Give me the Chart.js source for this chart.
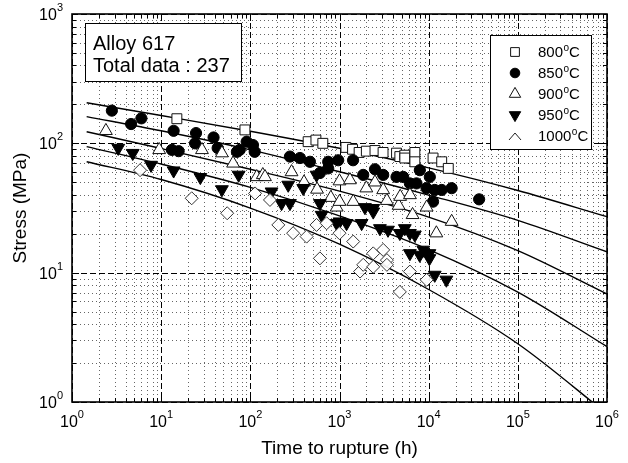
<!DOCTYPE html>
<html><head><meta charset="utf-8">
<script src="https://cdn.jsdelivr.net/npm/chart.js@4.4.1/dist/chart.umd.min.js"></script>
<style>html,body{margin:0;padding:0;background:#fff}#wrap{width:628px;height:463px;position:relative}</style>
</head><body><div id="wrap"><canvas id="c"></canvas></div>
<script>
// ---------- data ----------
const seriesLabels = ['800°C', '850°C', '900°C', '950°C', '1000°C'];
const noteLines = ['Alloy 617', 'Total data : 237'];
const xTitle = 'Time to rupture (h)';
const yTitle = 'Stress (MPa)';
const xTickExp = [0, 1, 2, 3, 4, 5, 6];
const yTickExp = [0, 1, 2, 3];

const t800 = [15, 87, 445, 544, 650, 1180, 1400, 1660, 2000, 2500, 3080, 4360, 4750, 5400, 5400, 7000, 7000, 11200, 14000, 16600];
const s800 = [155, 127, 103, 106, 100, 93, 90, 85, 87, 88, 85, 84, 79, 81, 77, 85, 72, 77, 72, 64];

const t850 = [2.8, 4.6, 6.0, 13.2, 13.8, 15.7, 24, 24.6, 38.7, 43, 70.7, 76, 91, 107, 112, 278, 360, 466, 603, 747, 747, 967, 1420, 1845, 2500, 3090, 4360, 5180, 6160, 7300, 7960, 9470, 10300, 11200, 11700, 14000, 18100, 36800];
const s850 = [179, 141, 156, 89, 125, 87, 100, 120, 111, 92, 86, 89, 103, 97, 86, 79, 77, 72, 59, 72, 64, 74, 74, 57, 63, 57, 55, 55, 49, 49, 62, 45, 55, 35.4, 43.6, 43.6, 45, 36.9];

const t900 = [2.4, 9.5, 28.7, 48, 64, 118, 138, 146, 290, 400, 560, 800, 930, 1000, 1000, 1310, 1425, 2000, 2500, 3090, 3400, 4600, 4790, 6170, 6600, 9500, 12200, 18100];
const s900 = [125, 89, 89, 84, 70, 55, 57, 55, 60, 50, 44, 38, 32, 51, 35.4, 52, 35.4, 45, 50, 43.6, 36, 33, 38.7, 39.9, 28, 32, 20.2, 24.8];

const t950 = [3.3, 4.8, 7.7, 13.8, 27.5, 48, 74, 173, 224, 266, 278, 392, 553, 603, 630, 927, 1000, 1200, 1770, 1930, 2390, 2390, 2840, 3500, 4750, 5400, 6160, 7000, 6160, 7940, 8710, 10200, 10200, 11700, 15800];
const s950 = [92, 84, 68, 61.5, 54.7, 44, 57, 42.3, 34.4, 47.7, 34.4, 45, 57, 34.4, 27.9, 24.1, 24.8, 24.1, 24.1, 32, 31.5, 29.6, 22, 21.4, 20.2, 22, 20.2, 19.6, 14.1, 13.7, 15, 12.9, 14.1, 9.6, 8.8];

const t1000 = [5.8, 22, 55, 113, 166, 206, 302, 428, 553, 603, 717, 1000, 1425, 1700, 1845, 2390, 2390, 3090, 3400, 3400, 4750, 6160, 9500];
const s1000 = [62, 37.6, 28.8, 41, 36.5, 23.4, 20.2, 19, 23.4, 12.9, 24.1, 20.2, 17.4, 10.2, 11.5, 11.1, 14.1, 15, 12.5, 11.5, 7.1, 10.2, 8.8];

// fitted master curves
const fitTime = [1.46, 10, 100, 1000, 10000, 100000, 1000000];
const fit800  = [206, 164, 124, 91.6, 64.6, 43.2, 27.1];
const fit850  = [161, 125, 89.1, 60.3, 39.8, 25.4, 14.5];
const fit900  = [123, 91.2, 63.1, 42.7, 26.9, 14.8, 6.84];
const fit950  = [94.4, 69.2, 45.7, 27.5, 15.1, 7.08, 2.68];
const fit1000 = [72.1, 52.5, 31.6, 16.6, 7.41, 2.82, 0.81];

// ---------- build ----------
const pts = (t, s) => t.map((v, i) => ({x: v, y: s[i]}));
const FONT = '"Liberation Sans", Arial, sans-serif';

const markerStyles = [
  {pointStyle: 'rect', radius: 7, bg: '#fff', border: '#111', rot: 0},
  {pointStyle: 'circle', radius: 5.6, bg: '#000', border: '#000', rot: 0},
  {pointStyle: 'triangle', radius: 7.4, bg: '#fff', border: '#111', rot: 0},
  {pointStyle: 'triangle', radius: 7.4, bg: '#000', border: '#000', rot: 180},
  {pointStyle: 'rectRot', radius: 6.5, bg: 'rgba(255,255,255,0.9)', border: '#333', rot: 0}
];
const seriesT = [t800, t850, t900, t950, t1000];
const seriesS = [s800, s850, s900, s950, s1000];
const fits = [fit800, fit850, fit900, fit950, fit1000];

const datasets = [];
fits.forEach((f, i) => datasets.push({
  type: 'line', label: 'fit ' + seriesLabels[i], data: pts(fitTime, f),
  borderColor: '#000', borderWidth: 1.4, pointRadius: 0, fill: false,
  cubicInterpolationMode: 'monotone', order: 20
}));
seriesT.forEach((t, i) => {
  const m = markerStyles[i];
  datasets.push({
    type: 'scatter', label: seriesLabels[i], data: pts(t, seriesS[i]),
    pointStyle: m.pointStyle, pointRadius: m.radius, pointRotation: m.rot,
    pointBackgroundColor: m.bg, pointBorderColor: m.border, pointBorderWidth: 1,
    order: 10 - i
  });
});

function drawPow(ctx, k, x, y, align) {
  ctx.font = '16px ' + FONT; const w1 = ctx.measureText('10').width;
  ctx.font = '11px ' + FONT; const w2 = ctx.measureText(String(k)).width;
  const left = align === 'center' ? x - (w1 + w2) / 2 : x - (w1 + w2);
  ctx.textAlign = 'left'; ctx.textBaseline = 'alphabetic'; ctx.fillStyle = '#000';
  ctx.font = '16px ' + FONT; ctx.fillText('10', left, y);
  ctx.font = '11px ' + FONT; ctx.fillText(String(k), left + w1, y - 9);
}

function drawDegLabel(ctx, lab, x, y) {
  const parts = lab.split('°');
  ctx.textAlign = 'left'; ctx.textBaseline = 'alphabetic'; ctx.fillStyle = '#000';
  ctx.font = '15px ' + FONT; ctx.fillText(parts[0], x, y);
  let w = ctx.measureText(parts[0]).width;
  ctx.font = '10px ' + FONT; ctx.fillText('o', x + w + 0.5, y - 6);
  w += ctx.measureText('o').width + 0.5;
  ctx.font = '15px ' + FONT; ctx.fillText(parts[1] || '', x + w, y);
}

const gridPlugin = {
  id: 'grid',
  beforeDatasetsDraw(chart) {
    const {ctx, chartArea: a, scales: {x, y}} = chart;
    ctx.save();
    ctx.lineWidth = 1;
    ctx.strokeStyle = '#666'; ctx.setLineDash([1, 3]);
    for (let e = 0; e < 6; e++) for (let m = 2; m <= 9; m++) {
      const px = Math.round(x.getPixelForValue(m * 10 ** e)) + 0.5;
      ctx.beginPath(); ctx.moveTo(px, a.top); ctx.lineTo(px, a.bottom); ctx.stroke();
    }
    for (let e = 0; e < 3; e++) for (let m = 2; m <= 9; m++) {
      const py = Math.round(y.getPixelForValue(m * 10 ** e)) + 0.5;
      ctx.beginPath(); ctx.moveTo(a.left, py); ctx.lineTo(a.right, py); ctx.stroke();
    }
    ctx.strokeStyle = '#000'; ctx.setLineDash([6, 3]);
    xTickExp.forEach(k => {
      const px = Math.round(x.getPixelForValue(10 ** k)) + 0.5;
      ctx.beginPath(); ctx.moveTo(px, a.top); ctx.lineTo(px, a.bottom); ctx.stroke();
    });
    yTickExp.forEach(k => {
      const py = Math.round(y.getPixelForValue(10 ** k)) + 0.5;
      ctx.beginPath(); ctx.moveTo(a.left, py); ctx.lineTo(a.right, py); ctx.stroke();
    });
    ctx.restore();
  },
  afterDatasetsDraw(chart) {
    const {ctx, chartArea: a, scales: {x, y}} = chart;
    ctx.save();
    ctx.setLineDash([]); ctx.strokeStyle = '#000'; ctx.lineWidth = 1;
    for (let e = 0; e < 6; e++) for (let m = 1; m <= 9; m++) {
      const px = Math.round(x.getPixelForValue(m * 10 ** e)) + 0.5;
      const L = m === 1 ? 7 : 4;
      ctx.beginPath(); ctx.moveTo(px, a.bottom); ctx.lineTo(px, a.bottom - L);
      ctx.moveTo(px, a.top); ctx.lineTo(px, a.top + L); ctx.stroke();
    }
    for (let e = 0; e < 3; e++) for (let m = 1; m <= 9; m++) {
      const py = Math.round(y.getPixelForValue(m * 10 ** e)) + 0.5;
      const L = m === 1 ? 7 : 4;
      ctx.beginPath(); ctx.moveTo(a.left, py); ctx.lineTo(a.left + L, py);
      ctx.moveTo(a.right, py); ctx.lineTo(a.right - L, py); ctx.stroke();
    }
    ctx.lineWidth = 1.6;
    ctx.strokeRect(a.left, a.top, a.right - a.left, a.bottom - a.top);
    ctx.restore();
  },
  afterDraw(chart) {
    const {ctx, chartArea: a, scales: {x, y}} = chart;
    ctx.save();
    xTickExp.forEach(k => drawPow(ctx, k, x.getPixelForValue(10 ** k), 427, 'center'));
    yTickExp.forEach(k => drawPow(ctx, k, a.left - 9, y.getPixelForValue(10 ** k) + 6, 'right'));
    ctx.fillStyle = '#000'; ctx.font = '19px ' + FONT;
    ctx.textAlign = 'center'; ctx.textBaseline = 'middle';
    ctx.fillText(xTitle, (a.left + a.right) / 2, 449);
    ctx.save(); ctx.translate(21, (a.top + a.bottom) / 2); ctx.rotate(-Math.PI / 2);
    ctx.fillText(yTitle, 0, 0); ctx.restore();
    // note box
    ctx.fillStyle = '#fff'; ctx.fillRect(85, 23, 157, 59);
    ctx.strokeStyle = '#000'; ctx.lineWidth = 1; ctx.strokeRect(85.5, 23.5, 156, 58);
    ctx.fillStyle = '#000'; ctx.font = '20px ' + FONT; ctx.textAlign = 'left'; ctx.textBaseline = 'middle';
    ctx.fillText(noteLines[0], 93, 44);
    ctx.fillText(noteLines[1], 93, 66);
    // legend box
    ctx.fillStyle = '#fff'; ctx.fillRect(490, 35, 102, 115);
    ctx.strokeRect(490.5, 35.5, 101, 114);
    seriesLabels.forEach((lab, i) => {
      const cy = 52 + i * 21, cx = 515;
      const m = markerStyles[i];
      if (i === 4) {
        ctx.strokeStyle = '#222'; ctx.lineWidth = 1;
        ctx.beginPath(); ctx.moveTo(cx - 6, cy + 4); ctx.lineTo(cx, cy - 3); ctx.lineTo(cx + 6, cy + 4); ctx.stroke();
      } else {
        ctx.fillStyle = m.bg; ctx.strokeStyle = m.border; ctx.lineWidth = 1;
        Chart.helpers.drawPoint(ctx, {pointStyle: m.pointStyle, radius: m.radius - 0.8, rotation: m.rot, borderWidth: 1}, cx, cy);
      }
      drawDegLabel(ctx, lab, 538, cy + 5);
    });
    ctx.restore();
  }
};

new Chart(document.getElementById('c'), {
  type: 'scatter',
  data: {datasets},
  options: {
    responsive: true, maintainAspectRatio: false, animation: false,
    layout: {padding: {left: 72, right: 21, top: 14, bottom: 61}},
    plugins: {legend: {display: false}, tooltip: {enabled: false}},
    scales: {
      x: {type: 'logarithmic', min: 1, max: 1e6, display: false},
      y: {type: 'logarithmic', min: 1, max: 1000, display: false}
    }
  },
  plugins: [gridPlugin]
});
</script>
</body></html>
